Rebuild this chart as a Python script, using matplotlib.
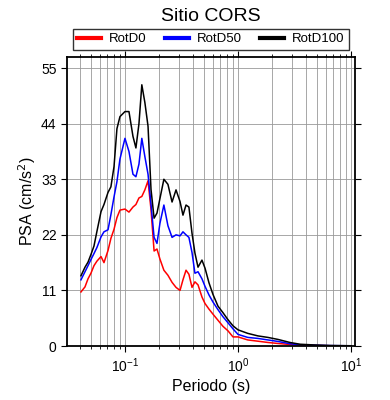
import matplotlib
matplotlib.use('Agg')
import matplotlib.pyplot as plt
from matplotlib.ticker import LogLocator, FixedLocator

plt.rcParams['font.family'] = ['Liberation Sans', 'DejaVu Sans']

# Periodos (s) y aceleraciones espectrales (cm/s2)
periodo = [0.0408, 0.0443, 0.0471, 0.0500, 0.0532, 0.0565, 0.0614, 0.0652, 0.0708,
           0.0751, 0.0800, 0.0849, 0.0903, 0.100, 0.1085, 0.1177, 0.125, 0.133,
           0.141, 0.150, 0.160, 0.170, 0.181, 0.192, 0.204, 0.221, 0.240, 0.261,
           0.283, 0.307, 0.326, 0.347, 0.368, 0.392, 0.416, 0.443, 0.480, 0.511,
           0.554, 0.601, 0.665, 0.736, 0.816, 0.903, 1.0, 1.22, 1.50, 1.84, 2.26,
           2.88, 3.54, 4.80, 6.52, 10.0]

rotd100 = [13.9, 15.6, 16.6, 18.1, 19.8, 22.7, 26.6, 28.0, 30.4, 31.5, 35.5, 43.0,
           45.4, 46.4, 46.4, 41.5, 39.2, 44.0, 51.7, 48.2, 43.5, 31.0, 25.3, 26.3,
           29.2, 33.0, 32.0, 28.5, 30.9, 28.6, 25.9, 27.9, 27.5, 22.3, 18.4, 15.6,
           17.0, 15.4, 12.5, 10.2, 7.9, 6.6, 5.2, 4.0, 3.2, 2.5, 2.0, 1.7, 1.3,
           0.7, 0.35, 0.2, 0.1, 0.05]

rotd50 = [13.1, 14.7, 15.9, 17.1, 18.3, 19.5, 21.6, 22.6, 23.0, 26.0, 29.5, 32.5,
          37.0, 41.1, 38.5, 34.0, 33.5, 36.0, 41.1, 37.5, 34.0, 28.0, 21.5, 20.3,
          24.3, 27.9, 23.8, 21.5, 22.0, 21.8, 22.6, 22.0, 21.5, 18.5, 14.4, 14.7,
          13.3, 11.8, 10.1, 8.7, 7.2, 5.8, 4.6, 3.4, 2.3, 1.7, 1.5, 1.2, 0.9,
          0.45, 0.25, 0.15, 0.08, 0.04]

rotd0 = [10.7, 11.7, 13.3, 14.4, 15.9, 16.8, 17.7, 16.5, 18.9, 21.3, 23.1, 25.4,
         26.9, 27.1, 26.5, 27.5, 28.0, 29.3, 29.6, 30.9, 32.7, 27.0, 18.8, 19.2,
         17.2, 15.0, 14.0, 12.6, 11.6, 11.0, 13.1, 15.0, 14.2, 11.6, 12.7, 12.1,
         9.7, 8.4, 7.3, 6.3, 5.1, 3.9, 3.0, 1.8, 1.8, 1.2, 0.95, 0.7, 0.5,
         0.3, 0.2, 0.1, 0.05, 0.03]

yticks = [0, 11, 22, 33, 44, 55]

fig = plt.figure(figsize=(3.9, 4.0), dpi=100)
ax = fig.add_axes([67 / 390, 54 / 400, 288 / 390, 289 / 400])

ax.plot(periodo, rotd0, color='red', lw=1.1, label='RotD0')
ax.plot(periodo, rotd50, color='blue', lw=1.1, label='RotD50')
ax.plot(periodo, rotd100, color='black', lw=1.1, label='RotD100')

ax.set_xscale('log')
ax.set_xlim(0.0307, 10.85)
ax.set_ylim(0, 57.2)
ax.yaxis.set_major_locator(FixedLocator(yticks))
ax.xaxis.set_minor_locator(LogLocator(base=10, subs=range(2, 10)))

ax.grid(True, which='major', axis='both', color='#999999', lw=0.6)
ax.grid(True, which='minor', axis='x', color='#999999', lw=0.6)
ax.set_axisbelow(True)

for s in ax.spines.values():
    s.set_linewidth(1.3)

ax.tick_params(which='major', direction='out', length=4, width=0.8, labelsize=10,
               top=True, right=True)
ax.tick_params(which='minor', direction='out', length=2, width=0.6, top=True)

ax.set_xlabel('Periodo (s)', fontsize=11.5, labelpad=3)
ax.set_ylabel('PSA (cm/s$^2$)', fontsize=11.5, labelpad=2)
ax.set_title('Sitio CORS', fontsize=14, pad=26)

leg = ax.legend(loc='lower center', bbox_to_anchor=(0.5, 1.024), ncol=3, fontsize=9.5,
                frameon=True, fancybox=False, edgecolor='black', handlelength=1.8,
                borderpad=0.35, borderaxespad=0, columnspacing=1.4, handletextpad=0.6)
leg.get_frame().set_linewidth(1.0)
for line in leg.get_lines():
    line.set_linewidth(3)

fig.savefig('out.png', dpi=100)
